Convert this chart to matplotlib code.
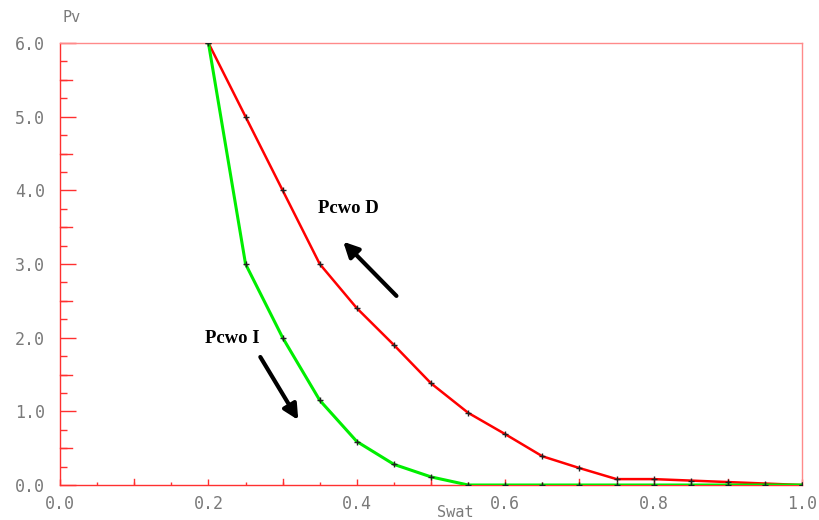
import matplotlib.pyplot as plt
from matplotlib.ticker import MultipleLocator

# saturation values and capillary pressure for both curves
sw_drain = [0.2, 0.25, 0.3, 0.35, 0.4, 0.45, 0.5, 0.55, 0.6, 0.65, 0.7, 0.75, 0.8, 0.85, 0.9, 0.95, 1.0]
pc_drain = [6.0, 5.0, 4.0, 3.0, 2.4, 1.9, 1.38, 0.98, 0.69, 0.39, 0.23, 0.08, 0.08, 0.06, 0.04, 0.02, 0.0]

sw_imb = [0.2, 0.25, 0.3, 0.35, 0.4, 0.45, 0.5, 0.55, 0.6, 0.65, 0.7, 0.75, 0.8, 0.85, 0.9, 0.95, 1.0]
pc_imb = [6.0, 3.0, 2.0, 1.15, 0.59, 0.28, 0.11, 0.0, 0.0, 0.0, 0.0, 0.0, 0.0, 0.0, 0.0, 0.0, 0.0]

x_ticks = [0.0, 0.2, 0.4, 0.6, 0.8, 1.0]
y_ticks = [0.0, 1.0, 2.0, 3.0, 4.0, 5.0, 6.0]

frame_red = '#ff3030'
label_grey = '#7a7a7a'

fig = plt.figure(figsize=(8.19, 5.2), dpi=100)
ax = fig.add_axes([0.0733, 0.0673, 0.906, 0.85])

ax.plot(sw_drain, pc_drain, color='#ff0000', lw=1.8, zorder=3,
        marker='+', ms=5, mec='#202020', mew=1.0)
ax.plot(sw_imb, pc_imb, color='#00ee00', lw=2.2, zorder=4,
        marker='+', ms=5, mec='#202020', mew=1.0)

ax.spines['left'].set_color(frame_red)
ax.spines['bottom'].set_color(frame_red)
ax.spines['top'].set_color('#ff8a8a')
ax.spines['right'].set_color('#ff8a8a')
for s in ax.spines.values():
    s.set_linewidth(1.0)

ax.set_xticks(x_ticks)
ax.set_xticklabels([f'{v:.1f}' for v in x_ticks])
ax.set_yticks(y_ticks)
ax.set_yticklabels([f'{v:.1f}' for v in y_ticks])
ax.xaxis.set_minor_locator(MultipleLocator(0.05))
ax.yaxis.set_minor_locator(MultipleLocator(0.25))
ax.set_xlim(0, 1.0)
ax.set_ylim(0, 6.0)

ax.tick_params(which='both', direction='in', color=frame_red, width=1.0,
               top=False, right=False)
ax.tick_params(axis='y', which='major', length=11.5, pad=11)
ax.tick_params(axis='y', which='minor', length=5)
ax.tick_params(axis='x', which='major', length=4, pad=7)
ax.tick_params(axis='x', which='minor', length=2.5)

# half-unit ticks on the y axis are drawn as long as the labelled ones
for v in [0.5, 1.5, 2.5, 3.5, 4.5, 5.5]:
    ax.plot([0, 0.0155], [v, v], color=frame_red, lw=1.0, clip_on=False,
            transform=ax.get_yaxis_transform())
# tenth ticks on the x axis
for v in [0.1, 0.3, 0.5, 0.7, 0.9]:
    ax.plot([v, v], [0, 0.0125], color=frame_red, lw=1.0,
            transform=ax.get_xaxis_transform())

for lbl in ax.get_xticklabels() + ax.get_yticklabels():
    lbl.set_fontfamily('DejaVu Sans Mono')
    lbl.set_fontsize(12)
    lbl.set_color(label_grey)

fig.text(0.088, 0.967, 'Pv', family='DejaVu Sans Mono', fontsize=11,
         color=label_grey, ha='center', va='center')
fig.text(0.556, 0.015, 'Swat', family='DejaVu Sans Mono', fontsize=11,
         color=label_grey, ha='center', va='center')

# direction labels and arrows
ax.text(0.389, 3.76, 'Pcwo D', family='Liberation Serif', weight='bold',
        fontsize=13.5, ha='center', va='center')
ax.annotate('', xy=(0.379, 3.33), xytext=(0.456, 2.54),
            arrowprops=dict(arrowstyle='-|>,head_length=0.9,head_width=0.45',
                            color='black', lw=3))
ax.text(0.232, 1.99, 'Pcwo I', family='Liberation Serif', weight='bold',
        fontsize=13.5, ha='center', va='center')
ax.annotate('', xy=(0.323, 0.85), xytext=(0.268, 1.77),
            arrowprops=dict(arrowstyle='-|>,head_length=0.9,head_width=0.45',
                            color='black', lw=3))

fig.savefig('out.png', dpi=100)
